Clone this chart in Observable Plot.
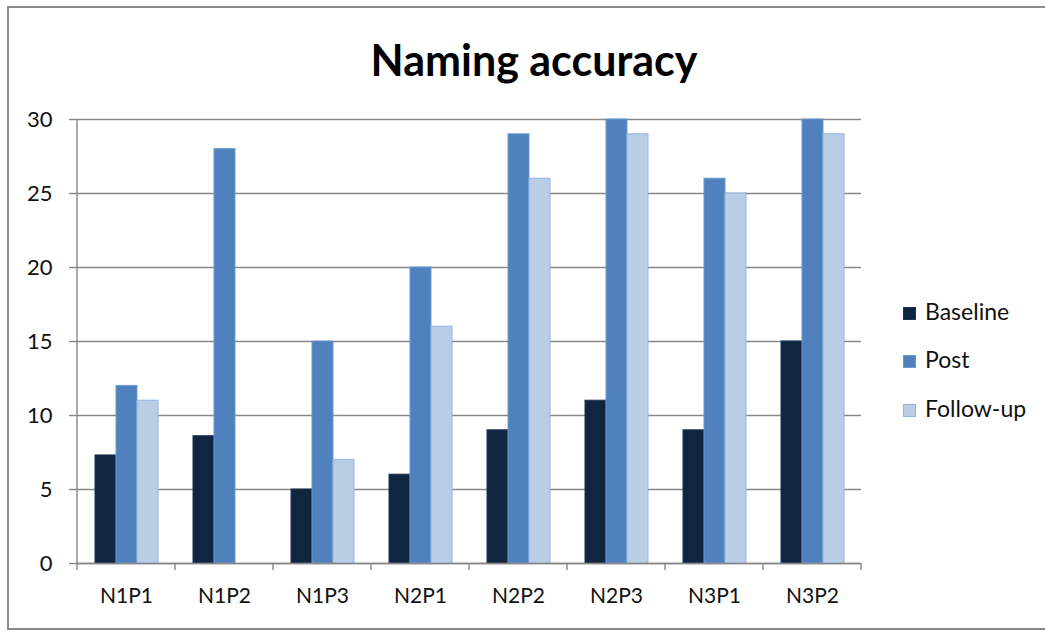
<!DOCTYPE html>
<html>
<head>
<meta charset="utf-8">
<script src="https://cdn.jsdelivr.net/npm/d3@7"></script>
<script src="https://cdn.jsdelivr.net/npm/@observablehq/plot@0.6"></script>
<style>
  html, body { margin: 0; padding: 0; background: #fff; }
  #wrap { position: relative; width: 1045px; height: 630px; overflow: hidden; font-family: Lato, "Open Sans", sans-serif; }
  #border { position: absolute; left: 7px; top: 6px; width: 1100px; height: 620px; border: 2px solid #8a8a8a; box-sizing: content-box; }
  #title { position: absolute; left: 0; top: 34px; width: 1068px; text-align: center; font-weight: bold; font-size: 43px; color: #000; line-height: 52px; }
  #chart { position: absolute; left: 0; top: 0; }
  .legend { position: absolute; left: 903px; font-size: 23px; color: #111; }
  .legend .item { position: absolute; white-space: nowrap; line-height: 26px; }
  .legend .sw { display: inline-block; width: 13px; height: 13px; margin-right: 9px; vertical-align: 0px; box-sizing: border-box; }
</style>
</head>
<body>
<div id="wrap">
  <div id="border"></div>
  <div id="title">Naming accuracy</div>
  <div id="chart"></div>
  <div class="legend" id="legend"></div>
</div>
<script>
// ---- data ----
const categories = ["N1P1", "N1P2", "N1P3", "N2P1", "N2P2", "N2P3", "N3P1", "N3P2"];
const series = ["Baseline", "Post", "Follow-up"];
const baseline = [7.3, 8.6, 5, 6, 9, 11, 9, 15];
const post = [12, 28, 15, 20, 29, 30, 26, 30];
const followUp = [11, null, 7, 16, 26, 29, 25, 29];
const yTicks = [0, 5, 10, 15, 20, 25, 30];
const fills = ["#10253F", "#4F81BD", "#B9CDE5"];
const strokes = ["#1c3454", "#6d9ad6", "#8fb5e6"];

const valuesBySeries = [baseline, post, followUp];
const data = categories.flatMap((c, i) =>
  series.map((s, j) => ({category: c, series: s, value: valuesBySeries[j][i]}))
).filter(d => d.value != null);

const gridColor = "#878787";

const barMarks = series.map((s, j) =>
  Plot.barY(data.filter(d => d.series === s), {
    fx: "category", x: "series", y: "value",
    fill: fills[j], stroke: strokes[j], strokeWidth: 1
  })
);

const plot = Plot.plot({
  width: 1045,
  height: 630,
  marginLeft: 77,
  marginRight: 184,
  marginTop: 119,
  marginBottom: 67,
  style: {background: "transparent", fontFamily: "Lato, 'Open Sans', sans-serif", color: "#111"},
  fx: {domain: categories, padding: 0, label: null},
  x: {domain: series, paddingInner: 0, paddingOuter: 0.76, axis: null},
  y: {domain: [0, 30], label: null},
  marks: [
    Plot.gridY(yTicks, {stroke: gridColor, strokeOpacity: 1, strokeWidth: 1.4}),
    ...barMarks,
    Plot.ruleY([0], {stroke: gridColor, strokeWidth: 1.4}),
    Plot.axisY(yTicks, {tickSize: 8, tickPadding: 17, fontSize: 22, stroke: gridColor, strokeWidth: 1.4, label: null}),
    Plot.axisFx({anchor: "bottom", tickSize: 0, tickPadding: 25, fontSize: 21, label: null})
  ]
});
document.getElementById("chart").appendChild(plot);

// axis line and category divider ticks, positioned from the library's scales
const fx = plot.scale("fx");
const ys = plot.scale("y");
const y0 = ys.apply(0), y30 = ys.apply(30);
const svg = d3.select(plot);
const g = svg.append("g").attr("stroke", gridColor).attr("stroke-width", 1.4);
const bounds = categories.map(c => fx.apply(c)).concat([fx.apply(categories[categories.length - 1]) + fx.bandwidth]);
g.append("line").attr("x1", bounds[0]).attr("x2", bounds[0]).attr("y1", y30).attr("y2", y0 + 7);
bounds.slice(1).forEach(b => {
  g.append("line").attr("x1", b).attr("x2", b).attr("y1", y0).attr("y2", y0 + 7);
});

// legend
const legend = document.getElementById("legend");
const legendY = [298, 346, 395];
series.forEach((s, j) => {
  const item = document.createElement("div");
  item.className = "item";
  item.style.top = legendY[j] + "px";
  item.innerHTML = `<span class="sw" style="background:${fills[j]};border:1px solid ${strokes[j]}"></span>${s}`;
  legend.appendChild(item);
});
</script>
</body>
</html>
